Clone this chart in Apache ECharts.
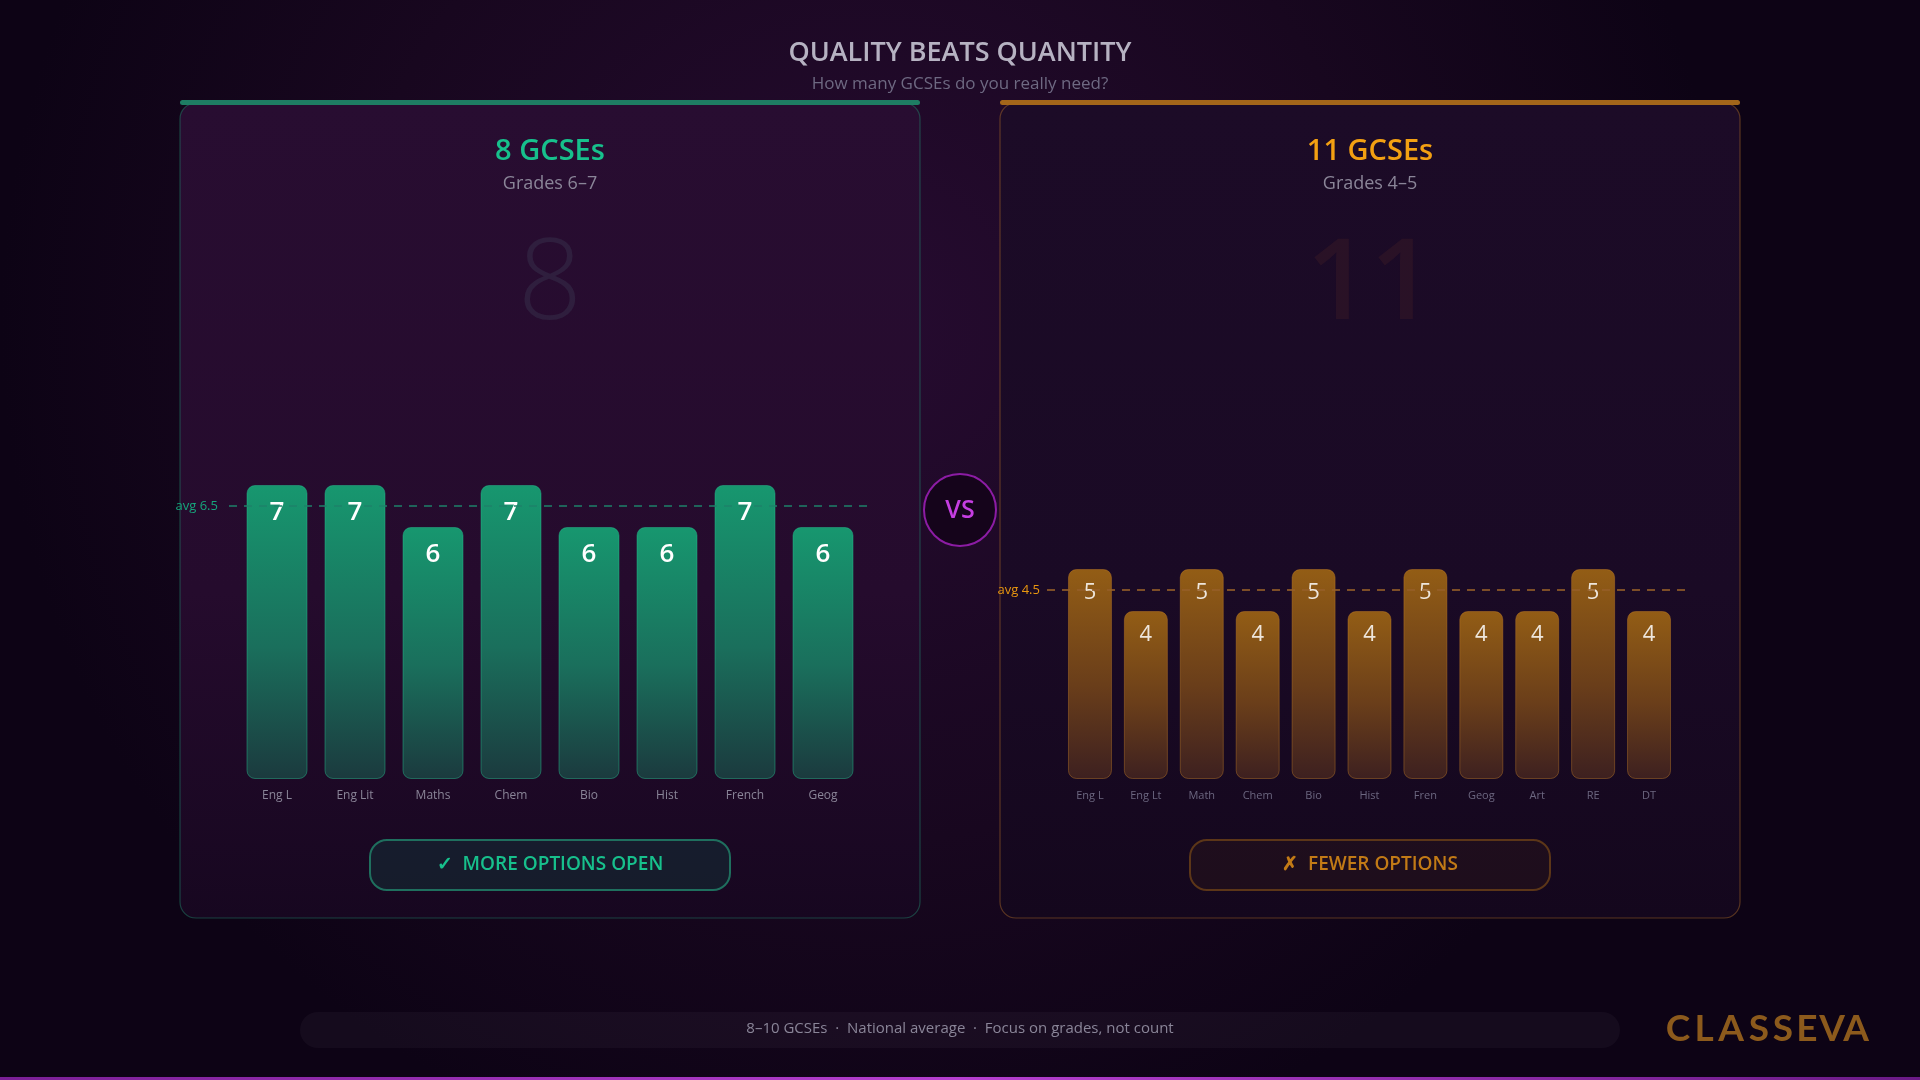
<!DOCTYPE html>
<html>
<head>
<meta charset="utf-8">
<style>
html,body{margin:0;padding:0;background:#12051a;}
#c{width:1920px;height:1080px;}
</style>
<script src="https://cdn.jsdelivr.net/npm/echarts@6/dist/echarts.min.js"></script>
</head>
<body>
<div id="c"></div>
<script>
// ---- data ----
const leftCats = ['Eng L','Eng Lit','Maths','Chem','Bio','Hist','French','Geog'];
const leftVals = [7,7,6,7,6,6,7,6];
const leftAvg = 6.5;
const rightCats = ['Eng L','Eng Lt','Math','Chem','Bio','Hist','Fren','Geog','Art','RE','DT'];
const rightVals = [5,4,5,4,5,4,5,4,4,5,4];
const rightAvg = 4.5;
const titleText = 'QUALITY BEATS QUANTITY';
const subtitleText = 'How many GCSEs do you really need?';
const leftHead = '8 GCSEs', leftSub = 'Grades 6–7', leftBig = '8';
const rightHead = '11 GCSEs', rightSub = 'Grades 4–5', rightBig = '11';
const leftBtn = '✓  MORE OPTIONS OPEN', rightBtn = '✗  FEWER OPTIONS';
const footerText = '8–10 GCSEs  ·  National average  ·  Focus on grades, not count';
const logoLetters = ['C','L','A','S','S','E','V','A'];

const FONT = '"Open Sans", "Noto Sans", sans-serif';
const green = '#17c08c', orange = '#f3a012';

const chart = echarts.init(document.getElementById('c'), null, {renderer:'canvas'});

const logoX = [1678,1704,1731,1759,1783,1807,1832,1856];
const logoEls = logoLetters.map((ch,i)=>({
  type:'text', x:logoX[i], y:1029, z:5,
  style:{text:ch, fill:'#8c5a1c', font:'700 37px Lato, "Open Sans", sans-serif', align:'center', verticalAlign:'middle'}
}));

function avgLine(idx, avg, lineColor, labelColor, dist){
  return {type:'line', xAxisIndex:idx, yAxisIndex:idx, silent:true, z:4,
    symbol:'circle', symbolSize:0.1, showSymbol:true,
    lineStyle:{type:[8,7], color:lineColor, width:2},
    itemStyle:{color:lineColor},
    data:[{value:[0,avg], label:{show:true, position:'left', distance:dist, formatter:'avg '+avg, color:labelColor, fontSize:13, fontFamily:FONT}},
          {value:[1,avg]}]};
}

const option = {
  backgroundColor:'#12051a',
  animation:false,
  graphic:{elements:[
    {type:'rect', z:-100, shape:{x:0,y:0,width:1920,height:1080},
     style:{fill:new echarts.graphic.RadialGradient(0.45,0.3,0.8,[{offset:0,color:'#260b30'},{offset:0.6,color:'#18071f'},{offset:1,color:'#0d0315'}])}},
    // panels
    {type:'rect', z:-50, shape:{x:180,y:103,width:740,height:815,r:16},
     style:{fill:new echarts.graphic.LinearGradient(0,0,0,1,[{offset:0,color:'#280d31'},{offset:0.6,color:'#250b2d'},{offset:1,color:'#170720'}]), stroke:'rgba(35,140,110,0.45)', lineWidth:1.2}},
    {type:'rect', z:-50, shape:{x:1000,y:103,width:740,height:815,r:16},
     style:{fill:new echarts.graphic.LinearGradient(0,0,0,1,[{offset:0,color:'#1c0b27'},{offset:0.6,color:'#1a0a25'},{offset:1,color:'#14071d'}]), stroke:'rgba(160,100,40,0.5)', lineWidth:1.2}},
    {type:'rect', z:-40, shape:{x:180,y:100,width:740,height:5,r:2.5}, style:{fill:'#1e7d63'}},
    {type:'rect', z:-40, shape:{x:1000,y:100,width:740,height:5,r:2.5}, style:{fill:'#a3661a'}},
    // titles
    {type:'text', x:960, y:53, style:{text:titleText, fill:'#b6b2c2', font:'600 27px '+FONT, align:'center', verticalAlign:'middle'}},
    {type:'text', x:960, y:84, style:{text:subtitleText, fill:'#6e6982', font:'400 17px '+FONT, align:'center', verticalAlign:'middle'}},
    // panel headers
    {type:'text', x:550, y:152, style:{text:leftHead, fill:green, font:'600 29px '+FONT, align:'center', verticalAlign:'middle'}},
    {type:'text', x:550, y:184, style:{text:leftSub, fill:'#8a8598', font:'400 18px '+FONT, align:'center', verticalAlign:'middle'}},
    {type:'text', x:1370, y:152, style:{text:rightHead, fill:orange, font:'600 29px '+FONT, align:'center', verticalAlign:'middle'}},
    {type:'text', x:1370, y:184, style:{text:rightSub, fill:'#8a8598', font:'400 18px '+FONT, align:'center', verticalAlign:'middle'}},
    // watermark numbers
    {type:'text', x:550, y:287, z:-30, style:{text:leftBig, fill:'rgba(100,140,150,0.14)', font:'300 112px '+FONT, align:'center', verticalAlign:'middle'}},
    {type:'text', x:1370, y:287, z:-30, style:{text:rightBig, fill:'rgba(140,70,40,0.13)', font:'600 112px '+FONT, align:'center', verticalAlign:'middle'}},
    // VS
    {type:'circle', z:5, shape:{cx:960,cy:510,r:36}, style:{fill:'#15041b', stroke:'#8c1ca4', lineWidth:2}},
    {type:'text', x:960, y:511, z:6, style:{text:'VS', fill:'#c63ee2', font:'600 25px '+FONT, align:'center', verticalAlign:'middle'}},
    // buttons
    {type:'rect', shape:{x:370,y:840,width:360,height:50,r:17}, style:{fill:'rgba(18,60,60,0.4)', stroke:'#1f6f5e', lineWidth:2}},
    {type:'text', x:550, y:865, style:{text:leftBtn, fill:green, font:'600 19px '+FONT, align:'center', verticalAlign:'middle'}},
    {type:'rect', shape:{x:1190,y:840,width:360,height:50,r:17}, style:{fill:'rgba(60,30,25,0.25)', stroke:'#5c3618', lineWidth:2}},
    {type:'text', x:1370, y:865, style:{text:rightBtn, fill:'#c27a16', font:'600 19px '+FONT, align:'center', verticalAlign:'middle'}},
    // footer
    {type:'rect', shape:{x:300,y:1012,width:1320,height:36,r:18}, style:{fill:'rgba(255,255,255,0.035)'}},
    {type:'text', x:960, y:1029, style:{text:footerText, fill:'#8a8598', font:'400 15px '+FONT, align:'center', verticalAlign:'middle'}},
    // bottom accent line
    {type:'rect', shape:{x:0,y:1077,width:1920,height:3},
     style:{fill:new echarts.graphic.LinearGradient(0,0,1,0,[{offset:0,color:'#7a1f96'},{offset:0.5,color:'#b63fd0'},{offset:1,color:'#6a1a86'}])}},
    ...logoEls
  ]},
  grid:[
    {left:238, top:443, width:624, height:336},
    {left:1062, top:443, width:615, height:336},
    {left:229, top:443, width:644, height:336},
    {left:1047, top:443, width:640, height:336}
  ],
  xAxis:[
    {type:'category', gridIndex:0, data:leftCats, axisLine:{show:false}, axisTick:{show:false},
     axisLabel:{color:'#8a8598', fontSize:12, fontFamily:FONT, margin:11}},
    {type:'category', gridIndex:1, data:rightCats, axisLine:{show:false}, axisTick:{show:false},
     axisLabel:{color:'#6c6780', fontSize:11, fontFamily:FONT, margin:11}},
    {type:'value', gridIndex:2, min:0, max:1, show:false},
    {type:'value', gridIndex:3, min:0, max:1, show:false}
  ],
  yAxis:[
    {type:'value', gridIndex:0, min:0, max:8, show:false, splitLine:{show:false}},
    {type:'value', gridIndex:1, min:0, max:8, show:false, splitLine:{show:false}},
    {type:'value', gridIndex:2, min:0, max:8, show:false, splitLine:{show:false}},
    {type:'value', gridIndex:3, min:0, max:8, show:false, splitLine:{show:false}}
  ],
  series:[
    {type:'bar', xAxisIndex:0, yAxisIndex:0, data:leftVals, barWidth:61, z:3,
     itemStyle:{borderRadius:8, borderColor:'rgba(40,190,145,0.45)', borderWidth:1,
       color:new echarts.graphic.LinearGradient(0,0,0,1,[{offset:0,color:'#17976f'},{offset:0.55,color:'#1a6f5c'},{offset:1,color:'#1b3a3e'}])},
     label:{show:true, position:'insideTop', distance:15, color:'#ffffff', fontSize:26, fontWeight:600, fontFamily:FONT}},
    {type:'bar', xAxisIndex:1, yAxisIndex:1, data:rightVals, barWidth:44, z:3,
     itemStyle:{borderRadius:8, borderColor:'rgba(200,130,40,0.4)', borderWidth:1,
       color:new echarts.graphic.LinearGradient(0,0,0,1,[{offset:0,color:'#935d15'},{offset:0.55,color:'#6a3e1a'},{offset:1,color:'#3d2020'}])},
     label:{show:true, position:'insideTop', distance:13, color:'#eee6dc', fontSize:22, fontWeight:400, fontFamily:FONT}},
    avgLine(2, leftAvg, 'rgba(30,130,105,0.75)', '#16a57c', 11),
    avgLine(3, rightAvg, 'rgba(150,95,40,0.8)', '#e8960f', 7)
  ]
};
chart.setOption(option);
</script>
</body>
</html>
